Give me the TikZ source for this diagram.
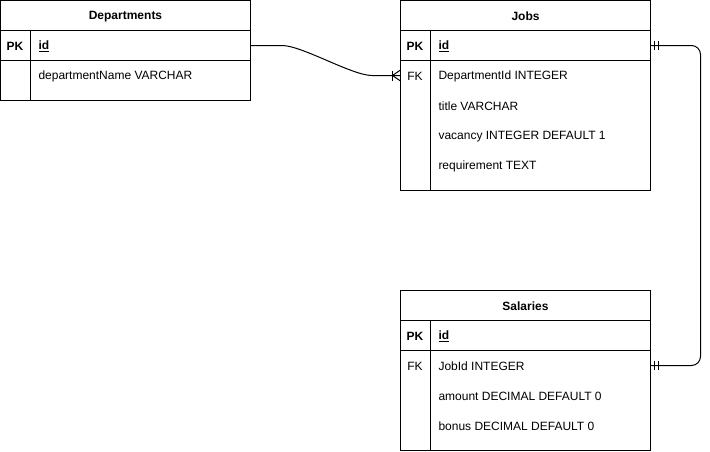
\documentclass[tikz,border=0pt]{standalone}
\usepackage{fontspec}
\setmainfont{Liberation Sans}
\begin{document}
\begin{tikzpicture}[x=1pt,y=-1pt,line width=1pt,
  cell/.style={draw=black,line width=1pt,minimum width=250pt,minimum height=#1,anchor=north west,inner sep=0pt,outer sep=0pt},
  row/.style={minimum width=250pt,minimum height=30pt,anchor=north west,inner sep=0pt,outer sep=0pt},
  ttl/.style={font=\fontsize{12}{14}\selectfont\bfseries,yshift=-1pt},
  txt/.style={font=\fontsize{12}{14}\selectfont,anchor=west,inner sep=0pt,yshift=-1pt},
  key/.style={font=\fontsize{12}{14}\selectfont,anchor=center,inner sep=0pt,yshift=-1pt},
  conn/.style={draw=black,line width=1pt,rounded corners=9pt}]
\useasboundingbox (0,0) rectangle (710,451);
% Departments
\node[cell=30pt] (dephead) at (0.5,0.5) {};
\node[ttl] (deptitle) at (dephead.center) {Departments};
\node[cell=30pt] (deppk) at (0.5,30.5) {};
\node[cell=40pt] (depbody) at (0.5,60.5) {};
\draw (30.5,30.5) -- (30.5,100.5);
\node[key,font=\fontsize{12}{14}\selectfont\bfseries] (depk1) at (15,45.5) {PK};
\node[txt,font=\fontsize{12}{14}\selectfont\bfseries] (depid) at (38,45.5) {\underline{id}};
\node[txt] (depname) at (38,75.5) {departmentName VARCHAR};
% Jobs
\node[cell=30pt] (jobhead) at (400.5,0.5) {};
\node[ttl] (jobtitle) at (jobhead.center) {Jobs};
\node[cell=30pt] (jobpk) at (400.5,30.5) {};
\node[cell=130pt] (jobbody) at (400.5,60.5) {};
\node[row] (jobr1) at (400.5,60.5) {};
\draw (430.5,30.5) -- (430.5,190.5);
\node[key,font=\fontsize{12}{14}\selectfont\bfseries] (jobk1) at (415,45.5) {PK};
\node[txt,font=\fontsize{12}{14}\selectfont\bfseries] (jobid) at (438,45.5) {\underline{id}};
\node[key] (jobk2) at (415,75.5) {FK};
\node[txt] (jobf1) at (438,75.5) {DepartmentId INTEGER};
\node[txt] (jobf2) at (438,105.5) {title VARCHAR};
\node[txt] (jobf3) at (438,135.5) {vacancy INTEGER DEFAULT 1};
\node[txt] (jobf4) at (438,165.5) {requirement TEXT};
% Salaries
\node[cell=30pt] (salhead) at (400.5,290.5) {};
\node[ttl] (saltitle) at (salhead.center) {Salaries};
\node[cell=30pt] (salpk) at (400.5,320.5) {};
\node[cell=100pt] (salbody) at (400.5,350.5) {};
\node[row] (salr1) at (400.5,350.5) {};
\draw (430.5,320.5) -- (430.5,450.5);
\node[key,font=\fontsize{12}{14}\selectfont\bfseries] (salk1) at (415,335.5) {PK};
\node[txt,font=\fontsize{12}{14}\selectfont\bfseries] (salid) at (438,335.5) {\underline{id}};
\node[key] (salk2) at (415,365.5) {FK};
\node[txt] (salf1) at (438,365.5) {JobId INTEGER};
\node[txt] (salf2) at (438,395.5) {amount DECIMAL DEFAULT 0};
\node[txt] (salf3) at (438,425.5) {bonus DECIMAL DEFAULT 0};
% Connector Departments.id -> Jobs.DepartmentId (one to many)
\coordinate (c1a) at (282,45.5);
\coordinate (c1b) at (372,75.5);
\draw (deppk.east) -- (c1a) .. controls (302,45.5) and (352,75.5) .. (c1b) -- (jobr1.west);
\draw (392.5,70.5) -- (392.5,80.5);
\draw (400.5,70) -- (392.5,75.5) -- (400.5,81);
% Connector Jobs.id -> Salaries.JobId (one to one)
\coordinate (c2a) at (700.5,45.5);
\coordinate (c2b) at (700.5,365.5);
\draw[conn] (jobpk.east) -- (c2a) -- (c2b) -- (salr1.east);
\draw (654.5,41) -- (654.5,50);
\draw (658.5,41) -- (658.5,50);
\draw (654.5,361) -- (654.5,370);
\draw (658.5,361) -- (658.5,370);
\end{tikzpicture}
\end{document}
